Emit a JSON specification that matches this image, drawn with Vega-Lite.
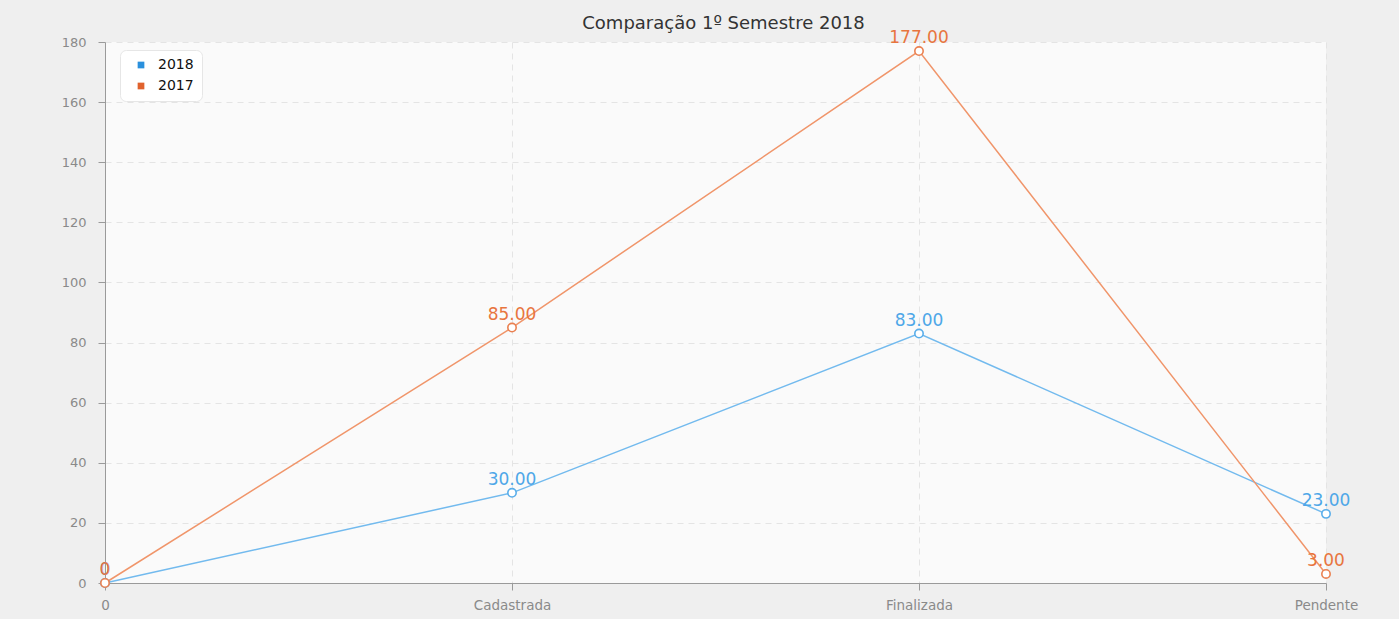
{
  "$schema": "https://vega.github.io/schema/vega-lite/v6.json",
  "autosize": {"type": "none"},
  "width": 1221,
  "height": 541,
  "padding": {"left": 105, "top": 42, "right": 73, "bottom": 36},
  "background": "#efefef",
  "title": {"text": "Comparação 1º Semestre 2018", "font": "DejaVu Sans", "fontSize": 18, "fontWeight": "normal", "color": "#333333", "anchor": "middle", "offset": 12, "dx": 8, "dy": 16},
  "data": {"values": [
    {"cat": "0", "series": "2018", "value": 0, "label": "0"},
    {"cat": "Cadastrada", "series": "2018", "value": 30, "label": "30.00"},
    {"cat": "Finalizada", "series": "2018", "value": 83, "label": "83.00"},
    {"cat": "Pendente", "series": "2018", "value": 23, "label": "23.00"},
    {"cat": "0", "series": "2017", "value": 0, "label": "0"},
    {"cat": "Cadastrada", "series": "2017", "value": 85, "label": "85.00"},
    {"cat": "Finalizada", "series": "2017", "value": 177, "label": "177.00"},
    {"cat": "Pendente", "series": "2017", "value": 3, "label": "3.00"}
  ]},
  "encoding": {
    "x": {"field": "cat", "type": "ordinal", "sort": ["0", "Cadastrada", "Finalizada", "Pendente"], "scale": {"type": "point", "padding": 0},
      "axis": {"title": null, "labelAngle": 0, "grid": true, "gridDash": [6, 5], "gridColor": "#e4e4e4", "domainColor": "#9a9a9a", "tickColor": "#9a9a9a", "tickSize": 7, "labelColor": "#8a8a8a", "labelFont": "DejaVu Sans", "labelFontSize": 13.5, "labelPadding": 8}},
    "y": {"field": "value", "type": "quantitative", "scale": {"domain": [0, 180], "nice": false},
      "axis": {"title": null, "values": [0, 20, 40, 60, 80, 100, 120, 140, 160, 180], "grid": true, "gridDash": [6, 5], "gridColor": "#e4e4e4", "domainColor": "#9a9a9a", "tickColor": "#9a9a9a", "tickSize": 7, "labelColor": "#8a8a8a", "labelFont": "DejaVu Sans", "labelFontSize": 13, "labelPadding": 12}}
  },
  "layer": [
    {
      "mark": {"type": "square", "size": 0, "opacity": 0},
      "encoding": {
        "color": {"field": "series", "type": "nominal", "scale": {"domain": ["2018", "2017"], "range": ["#2a90dd", "#e0622d"]},
          "legend": {"title": null, "orient": "none", "legendX": 15, "legendY": 8, "symbolType": "square", "symbolSize": 45, "symbolOpacity": 1, "symbolOffset": 6, "labelFont": "DejaVu Sans", "labelFontSize": 14, "labelColor": "#111111", "fillColor": "white", "strokeColor": "#e6e6e6", "cornerRadius": 6, "padding": 8, "rowPadding": 7, "labelOffset": 10, "labelLimit": 60}}
      }
    },
    {
      "mark": {"type": "line", "strokeWidth": 1.5},
      "encoding": {
        "color": {"field": "series", "type": "nominal", "scale": {"domain": ["2018", "2017"], "range": ["#72baee", "#f0956a"]}, "legend": null}
      }
    },
    {
      "mark": {"type": "point", "shape": "circle", "size": 70, "strokeWidth": 1.6, "filled": true, "fill": "white", "fillOpacity": 1},
      "encoding": {
        "stroke": {"field": "series", "type": "nominal", "scale": {"domain": ["2018", "2017"], "range": ["#5aaeea", "#ea8050"]}, "legend": null}
      }
    },
    {
      "mark": {"type": "text", "dy": -13, "font": "DejaVu Sans", "fontSize": 17},
      "encoding": {
        "text": {"field": "label"},
        "color": {"field": "series", "type": "nominal", "scale": {"domain": ["2018", "2017"], "range": ["#4ea7e8", "#e8753e"]}, "legend": null}
      }
    }
  ],
  "resolve": {"scale": {"color": "independent"}},
  "config": {
    "view": {"fill": "#fafafa", "stroke": null}
  }
}
